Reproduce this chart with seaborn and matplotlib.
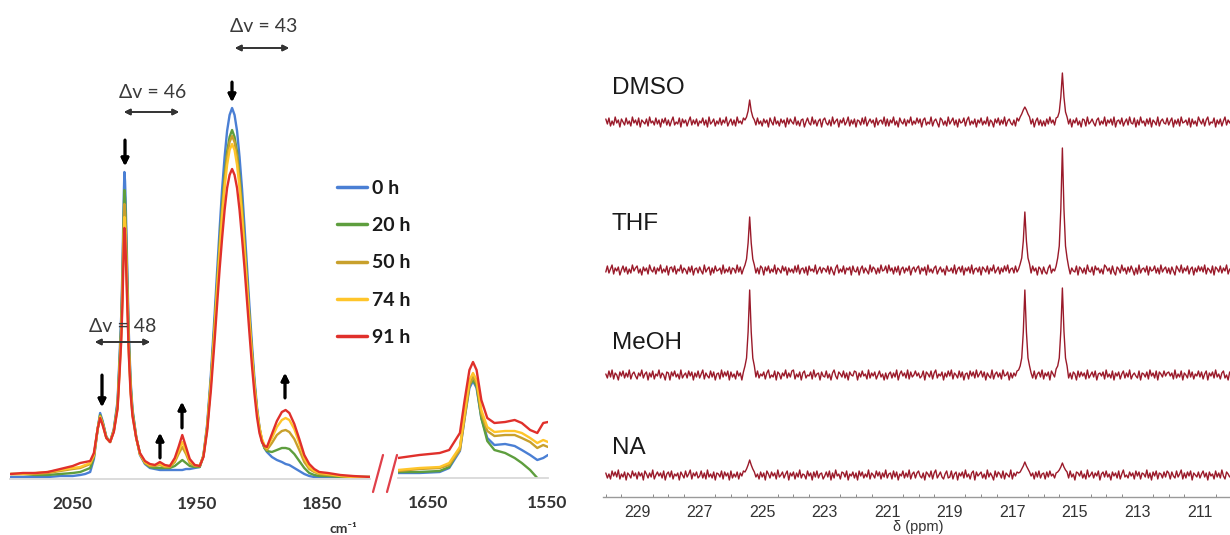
import matplotlib
matplotlib.use("Agg")
import matplotlib.pyplot as plt
from matplotlib.lines import Line2D
from matplotlib.ticker import MultipleLocator
import seaborn as sns
import numpy as np
import pandas as pd

# ---------------- IR data (absorbance in arbitrary units) ----------------
times = ["0 h", "20 h", "50 h", "74 h", "91 h"]
time_colors = ["#4A7FD4", "#5E9E3E", "#C8A02C", "#FFC52A", "#E0302B"]

wavenumber = [2100, 2090, 2080, 2070, 2060, 2050, 2044, 2040, 2036, 2033,
              2030, 2028, 2026, 2023, 2020, 2017, 2014, 2012.5, 2011, 2010,
              2009.5, 2009, 2008.5, 2008, 2007.5, 2007, 2006, 2005, 2003.5, 2002,
              1999, 1996, 1992, 1988, 1984, 1980, 1976, 1972, 1968, 1965,
              1962, 1959, 1956, 1952, 1948, 1945, 1942, 1939, 1936, 1934,
              1932, 1930, 1928, 1926, 1924, 1922, 1920, 1918, 1916, 1914,
              1912, 1910, 1908, 1906, 1904, 1902, 1900, 1898, 1896, 1894,
              1890, 1886, 1882, 1879, 1876, 1872, 1868, 1864, 1860, 1856,
              1852, 1845, 1835, 1825, 1811]

abs_0h = [2, 2, 2, 2, 3, 3, 4, 5, 7, 20,
          50, 66, 58, 42, 37, 50, 78, 120, 165, 215,
          250, 283, 307, 298, 278, 252, 200, 148, 98, 70,
          42, 24, 15, 11, 10, 9, 9, 9, 9, 9,
          9, 10, 10, 11, 12, 24, 55, 105, 165, 208,
          250, 290, 322, 348, 364, 371, 364, 348, 322, 290,
          252, 212, 172, 134, 100, 72, 52, 38, 31, 27,
          22, 19, 17, 15, 14, 11, 8, 5, 3, 2,
          2, 2, 2, 2, 2]
abs_20h = [5, 5, 4, 4, 5, 6, 7, 9, 11, 22,
           50, 64, 57, 42, 37, 49, 75, 114, 156, 203,
           236, 267, 289, 281, 262, 238, 189, 141, 94, 68,
           42, 25, 16, 12, 11, 11, 11, 11, 13, 16,
           19, 16, 13, 12, 12, 23, 52, 99, 156, 196,
           236, 273, 303, 327, 342, 349, 342, 327, 303, 273,
           237, 200, 162, 127, 95, 69, 50, 38, 31, 28,
           27, 29, 31, 31, 30, 25, 18, 11, 6, 4,
           3, 3, 2, 2, 2]
abs_50h = [5, 5, 5, 6, 8, 10, 11, 13, 15, 23,
           50, 63, 56, 41, 37, 48, 73, 110, 150, 194,
           225, 254, 275, 267, 249, 226, 181, 135, 91, 66,
           41, 25, 16, 13, 13, 14, 12, 12, 17, 25,
           32, 25, 16, 13, 13, 23, 52, 98, 153, 193,
           232, 268, 298, 322, 337, 343, 337, 322, 298, 268,
           233, 196, 160, 125, 94, 69, 51, 39, 32, 29,
           36, 44, 48, 49, 47, 40, 29, 17, 10, 7,
           5, 4, 3, 2, 2]
abs_74h = [5, 5, 6, 7, 9, 11, 12, 14, 16, 24,
           50, 62, 55, 41, 37, 48, 71, 106, 144, 185,
           214, 242, 262, 254, 238, 216, 173, 129, 88, 64,
           41, 25, 17, 14, 14, 15, 13, 13, 19, 28,
           37, 28, 18, 14, 13, 23, 51, 96, 150, 189,
           226, 262, 291, 314, 329, 335, 329, 314, 291, 262,
           228, 192, 156, 122, 92, 68, 51, 40, 34, 31,
           41, 52, 59, 61, 59, 50, 36, 21, 12, 8,
           6, 5, 3, 2, 2]
abs_91h = [5, 6, 6, 7, 10, 13, 16, 17, 18, 26,
           50, 61, 54, 41, 37, 47, 70, 103, 139, 178,
           206, 232, 251, 244, 228, 207, 166, 125, 85, 63,
           41, 26, 18, 15, 14, 17, 14, 13, 21, 32,
           44, 32, 20, 14, 13, 22, 48, 89, 139, 175,
           210, 241, 269, 291, 304, 310, 304, 291, 269, 241,
           211, 178, 145, 113, 85, 62, 46, 37, 33, 32,
           45, 58, 67, 69, 66, 55, 40, 24, 15, 10,
           7, 6, 4, 3, 2]

inset_wavenumber = [1675, 1657, 1640, 1632, 1623, 1619, 1615, 1612, 1609, 1605,
                    1600, 1594, 1585, 1577, 1571, 1564, 1558, 1553, 1549]
inset_0h = [5, 5, 6, 10, 27, 60, 90, 97, 90, 60, 40, 33, 34, 32, 28, 23, 18, 20, 23]
inset_20h = [6, 6, 7, 11, 30, 63, 93, 98, 92, 60, 37, 28, 25, 20, 15, 8, 0, np.nan, np.nan]
inset_50h = [7, 9, 10, 13, 28, 60, 93, 101, 95, 64, 47, 42, 43, 43, 40, 36, 30, 33, 31]
inset_74h = [8, 10, 11, 15, 31, 65, 98, 105, 98, 68, 51, 46, 47, 47, 45, 40, 35, 38, 36]
inset_91h = [20, 23, 25, 28, 45, 78, 108, 116, 108, 78, 60, 55, 56, 58, 55, 48, 45, 55, 56]

# ---------------- 13C NMR data (230.00 -> 210.00 ppm, 0.05 ppm steps) ----------------
solvents = ["DMSO", "THF", "MeOH", "NA"]
nmr_dmso = [
    3, -2, 4, -4, 1, -3, 5, -1, 2, -5, 3, 0, -3, 4, -2, 1, -4, 5, -1, 2,
    -3, 4, -5, 2, 0, -2, 3, -4, 5, -1, 1, -3, 4, -2, 2, -5, 3, -1, 4, -3,
    2, -4, 1, 5, -3, 0, -2, 4, -5, 3, -1, 2, -4, 1, 5, -3, 2, -2, 3, -4,
    1, -1, 4, -3, 2, -5, 5, -2, 0, 3, -4, 1, -2, 4, -3, 2, -1, 5, -4, 0,
    3, -3, 2, -4, 5, -1, 1, -2, 4, 2, 5, 11, 22, 11, 5, 2, -3, 4, -2, 1,
    -4, 3, -1, 2, -5, 4, 0, -3, 5, -2, 1, -4, 3, -1, 2, -5, 4, -2, 3, 0,
    -2, 5, -3, 1, -4, 2, 3, -5, 0, 4, -1, -3, 5, -2, 2, -4, 1, 3, -5, 2,
    4, -1, -3, 2, -4, 5, -2, 1, 3, -5, 2, -1, 4, -3, 0, 5, -4, 2, -2, 3,
    -5, 2, 1, -3, 4, -2, 5, -4, 0, 3, -1, 2, -5, 4, -3, 1, 2, -2, 5, -4,
    3, -4, 2, -1, 5, -3, 1, -5, 4, 0, -2, 3, -4, 2, -1, 5, -3, 1, -2, 4,
    -1, 3, -5, 2, 4, -3, 0, -2, 5, -4, 1, 3, -1, -5, 4, 2, -3, 1, -4, 5,
    -2, 1, 4, -3, 2, -5, 3, -1, 0, 4, -4, 2, 5, -3, 1, -2, 3, -5, 2, -1,
    4, -3, 1, -2, 5, -4, 2, 0, -5, 3, -1, 4, -3, 2, -2, 5, -4, 1, 3, -1,
    -3, 2, -4, 4, 1, 5, 8, 12, 15, 12, 8, 5, -2, 3, -5, 1, 4, -3, 2, -4,
    1, -4, 3, -2, 5, -1, 2, -3, 4, 5, 10, 25, 49, 25, 10, 5, -2, 3, -5, 2,
    -1, 4, -3, 1, -5, 3, 2, -4, 5, -2, 0, 3, -1, -4, 2, 4, -3, 1, -2, 5,
    -4, 2, -1, 3, -3, 5, -5, 1, 2, -2, 4, -4, 0, 3, -3, 5, -1, -2, 4, -5,
    2, -3, 5, -1, 1, -4, 3, -2, 4, -5, 2, 0, -3, 5, -4, 1, 3, -1, -2, 4,
    -3, 1, 4, -5, 2, -2, 3, -4, 5, -1, 0, 2, -3, 4, -5, 3, -2, 1, -4, 5,
    1, -2, 3, -4, 2, 5, -3, 0, -1, 4, -5, 2, -2, 3, -4, 1, 5, -3, 2, -1,
    3]
nmr_thf = [
    -2, 4, -3, 1, 5, -4, 2, -1, 3, -5, 0, 4, -2, 3, -4, 1, -3, 5, -1, 2,
    4, -3, 1, -5, 3, -1, 2, -4, 5, 0, -2, 3, -4, 2, -1, 5, -3, 1, -2, 4,
    -5, 2, 3, -2, 4, -4, 1, -1, 5, -3, 2, 0, -4, 3, -2, 4, -5, 1, 2, -3,
    3, -1, -4, 5, -2, 1, 3, -5, 2, -3, 4, -1, 0, 2, -4, 5, -3, 1, -2, 3,
    -4, 2, 1, -3, 5, -2, 3, -4, 1, 5, 11, 27, 53, 27, 11, 5, -3, 2, -4, 4,
    2, -5, 3, -1, 4, -3, 1, -2, 5, -4, 2, 0, -3, 4, -1, 3, -5, 2, -2, 1,
    -3, 4, -2, 5, -4, 1, 2, -3, 3, -5, 4, -1, 1, -2, 5, -4, 0, 3, -3, 2,
    1, -2, 4, -4, 3, -1, -5, 2, 5, -3, 1, -2, 4, -4, 2, 0, 3, -5, 4, -1,
    -2, 3, -5, 1, 4, -3, 2, -1, -4, 5, -2, 3, 1, -4, 2, -3, 5, -1, 0, 4,
    -3, 5, -1, 2, -4, 3, -2, 4, -5, 1, 3, -3, 2, -1, 4, -5, 1, 3, -2, 2,
    4, -4, 2, -1, 3, -5, 5, -2, 1, -3, 2, 4, -4, 0, 3, -2, 1, -5, 4, -1,
    -1, 2, -3, 5, -4, 1, 3, -2, 4, -5, 2, -1, 3, -3, 5, -4, 1, 2, -2, 3,
    -5, 3, 1, -2, 4, -4, 2, -1, 5, -3, 0, 3, -4, 2, -2, 4, -1, 5, -3, 1,
    2, -3, 4, -2, 1, 6, 12, 29, 58, 29, 12, 6, -3, 4, -1, 2, -5, 3, 1, -4,
    3, -2, -4, 2, 5, -3, 1, -1, 4, 12, 24, 61, 122, 61, 24, 12, 3, -4, 2, -1,
    -2, 4, -5, 3, 1, -3, 2, -4, 5, -1, -2, 3, -5, 4, 0, 2, -3, 1, -4, 5,
    3, -1, 2, -4, 4, -2, -5, 3, 1, -3, 5, -1, 2, -4, 3, -2, 4, 0, -5, 2,
    -4, 5, -3, 1, 2, -2, 4, -5, 3, -1, 0, 4, -3, 2, -4, 5, -2, 1, 3, -3,
    2, -4, 3, -1, -5, 4, 1, -2, 5, -3, 2, -1, 4, -4, 1, 3, -5, 2, -2, 4,
    -1, 3, -2, 5, -4, 2, 0, -3, 4, -5, 3, 1, -2, 4, -3, 2, -1, 5, -4, 1,
    -2]
nmr_meoh = [
    1, -3, 4, -2, 5, -4, 2, 0, -5, 3, -1, 4, -3, 2, -2, 5, -4, 1, 3, -1,
    -4, 2, -1, 5, -3, 1, 3, -5, 2, -2, 4, -4, 1, -1, 5, -3, 2, 0, -5, 3,
    2, -5, 3, -1, 4, -2, 1, -4, 5, -3, 0, 2, -3, 4, -1, 3, -5, 2, -2, 4,
    -3, 1, 5, -4, 2, -1, -3, 4, -2, 3, -5, 1, 2, -4, 5, -2, 3, -1, 4, -5,
    3, -2, 1, -4, 4, -1, 2, -5, 3, 9, 17, 43, 85, 43, 17, 9, -2, 4, -3, 1,
    -1, 3, -4, 2, 5, -3, 0, -2, 4, -5, 3, 1, -4, 2, -1, 5, -3, 2, -2, 4,
    5, -4, 1, -2, 3, -5, 2, 4, -3, 0, -1, 3, -4, 5, -2, 1, 2, -5, 3, -1,
    -2, 4, -3, 1, -5, 2, 5, -1, -4, 3, 1, -2, 4, -3, 2, -5, 3, 0, -1, 4,
    3, -5, 2, -2, 4, -1, 1, -4, 5, -3, 2, -1, 3, -4, 0, 4, -2, 1, -5, 2,
    -4, 1, 3, -3, 2, -2, 5, -5, 1, 4, -1, 2, -3, 5, -4, 3, -2, 0, 4, -1,
    2, -3, -1, 4, -5, 3, 1, -2, 4, -4, 2, 5, -3, 1, -1, 3, -5, 2, -2, 4,
    -1, 5, -4, 2, 0, -3, 4, -2, 3, -5, 1, 2, -4, 4, -1, 3, -3, 5, -2, 1,
    4, -2, 3, -5, 2, -1, -3, 5, -4, 1, 3, -2, 2, -4, 5, -1, 0, 3, -5, 2,
    -3, 2, -1, 4, 5, 9, 17, 43, 85, 43, 17, 9, 2, -3, 4, -4, 1, 3, -2, 5,
    -4, 2, -1, 3, -5, 4, 1, -2, 6, 9, 17, 44, 87, 44, 17, 9, -3, 2, -4, 3,
    1, -5, 4, -2, 3, -1, 2, -4, 5, -3, 0, 3, -2, 4, -5, 1, 2, -1, 3, -4,
    5, -2, 1, -3, 4, -5, 2, -1, 3, -4, 1, 4, -3, 2, -2, 5, -4, 0, 2, -1,
    -3, 4, -5, 2, 1, -2, 3, -4, 5, -1, 2, -3, 4, -5, 3, 1, -2, 4, -1, 2,
    3, -1, 2, -4, 5, -3, 1, -2, 4, -5, 2, 0, -3, 5, -2, 3, -4, 1, -1, 4,
    -2, 3, -4, 1, 4, -5, 2, -1, 3, -3, 5, -2, 1, -4, 2, 4, -3, 0, -5, 3,
    1]
nmr_na = [
    2, -3, 1, -4, 4, -1, 3, -2, 5, -4, 1, -2, 3, -5, 2, 0, -3, 4, -1, 2,
    -4, 3, -1, 2, -5, 4, 1, -3, 2, -2, 5, -4, 0, 3, -1, 2, -3, 4, -5, 1,
    3, -2, 4, -4, 1, -1, 2, -5, 3, 0, -3, 4, -2, 1, 5, -4, 2, -1, 3, -3,
    -1, 4, -3, 2, -4, 5, -2, 1, -3, 3, -5, 2, 1, -2, 4, -4, 3, -1, 2, -5,
    4, -3, 1, -2, 3, -4, 2, -1, 4, 3, 6, 10, 15, 10, 6, 3, -2, 1, -4, 3,
    -2, 2, -5, 4, 1, -3, 3, -1, 2, -4, 5, -2, 0, 3, -3, 1, 4, -5, 2, -1,
    3, -4, 2, -2, 5, -3, 1, 0, -4, 4, -1, 2, -5, 3, -2, 4, -3, 1, 2, -4,
    -1, 3, -2, 4, -5, 2, -3, 5, -1, 1, -4, 3, 2, -2, 4, -5, 1, -1, 3, -3,
    2, -5, 4, -1, 3, -3, 1, -2, 5, -4, 2, 0, -3, 4, -1, 3, -4, 2, -2, 5,
    -3, 1, 2, -4, 4, -2, 3, -5, 1, -1, 4, -3, 2, -2, 5, -4, 1, 3, -3, 2,
    4, -1, -3, 2, -5, 3, 1, -2, 4, -4, 2, 5, -3, 0, 3, -2, -4, 1, 4, -3,
    -2, 4, -4, 1, 3, -5, 2, -1, 3, -3, 5, -2, 1, -4, 2, 4, -5, 3, -1, 1,
    3, -3, 1, -4, 5, -2, 2, -1, -5, 4, -2, 3, 1, -3, 4, -4, 2, 0, -2, 5,
    -4, 2, -1, 3, 2, 3, 6, 9, 13, 9, 6, 3, -1, 2, -4, 3, -2, 4, -3, 1,
    2, -4, 3, -2, 4, -1, 1, -3, 2, 3, 5, 8, 12, 8, 5, 3, -3, 4, -2, 1,
    -5, 3, 2, -1, 4, -3, 1, -4, 5, -2, 0, 3, -3, 2, -1, 4, -5, 1, 3, -2,
    4, -2, 1, -5, 3, -1, 2, -3, 4, -4, 1, 5, -2, 0, -3, 3, -1, 2, -4, 4,
    -1, 3, -4, 2, 1, -2, 5, -3, 2, -5, 3, -1, 4, -4, 2, 1, -3, 3, -2, 4,
    2, -4, 3, -1, -3, 4, -2, 1, 5, -4, 2, -3, 3, -1, 4, -5, 2, 0, -2, 3,
    -3, 1, 4, -2, 2, -5, 3, -1, 1, -4, 4, -2, 2, -3, 5, -1, -4, 3, 1, -2,
    0]
nmr_traces = [nmr_dmso, nmr_thf, nmr_meoh, nmr_na]
ppm = np.round(np.linspace(230.0, 210.0, 401), 2)

# ---------------- figure ----------------
W, H = 1230, 535
sns.set_theme(style="white")
plt.rcParams["font.family"] = ["Lato", "DejaVu Sans"]

fig = plt.figure(figsize=(W / 100, H / 100), dpi=100)


def px_axes(left, top, right, bottom):
    return fig.add_axes([left / W, 1 - bottom / H, (right - left) / W, (bottom - top) / H])


def fp(x, y):
    return (x / W, 1 - y / H)


def ir_frame(df, ax):
    sns.lineplot(data=df, x="wn", y="a", hue="time", hue_order=times,
                 palette=time_colors, linewidth=1.7, ax=ax, sort=False, estimator=None)
    for s in ["top", "left", "right"]:
        ax.spines[s].set_visible(False)
    ax.spines["bottom"].set_color("#d9d9d9")
    ax.spines["bottom"].set_linewidth(1.3)
    ax.set_yticks([])
    ax.set_xlabel("")
    ax.set_ylabel("")
    ax.tick_params(axis="x", length=0, pad=12, labelsize=12.5, labelcolor="#333333")
    ax.patch.set_alpha(0)
    for ln in ax.get_lines():
        ln.set_solid_joinstyle("round")


# main IR panel
ir = pd.DataFrame({"wn": wavenumber * 5,
                   "a": abs_0h + abs_20h + abs_50h + abs_74h + abs_91h,
                   "time": np.repeat(times, len(wavenumber))})
ax1 = px_axes(10, 0, 370, 479)
ir_frame(ir, ax1)
ax1.set_xlim(2100.4, 1811.2)
ax1.set_ylim(0, 479)
ax1.set_xticks([2050, 1950, 1850])
for t in ax1.get_xticklabels():
    t.set_fontweight("bold")

handles, labels = ax1.get_legend_handles_labels()
leg = ax1.legend(handles, labels, loc="upper left", bbox_to_anchor=fp(337, 180),
                 bbox_transform=fig.transFigure, frameon=False, fontsize=14,
                 handlelength=1.55, handletextpad=0.25, labelspacing=1.04,
                 borderaxespad=0, borderpad=0)
for t in leg.get_texts():
    t.set_fontweight("bold")
    t.set_color("#1a1a1a")
for ln in leg.get_lines():
    ln.set_linewidth(2.5)

# inset IR panel
ir2 = pd.DataFrame({"wn": inset_wavenumber * 5,
                    "a": inset_0h + inset_20h + inset_50h + inset_74h + inset_91h,
                    "time": np.repeat(times, len(inset_wavenumber))}).dropna()
ax2 = px_axes(398, 340, 548, 478)
ir_frame(ir2, ax2)
ax2.get_legend().remove()
ax2.set_xlim(1675, 1549)
ax2.set_ylim(0, 138)
ax2.set_xticks([1650, 1550])
for t in ax2.get_xticklabels():
    t.set_fontweight("bold")

fig.text(*fp(343, 529), "cm\u207b\u00b9", ha="center", va="center", fontsize=10,
         fontweight="bold", color="#333333", family=["Lato", "DejaVu Sans"])

# axis break marks
for x0 in (373, 387):
    fig.add_artist(Line2D([x0 / W, (x0 + 10) / W], [1 - 492 / H, 1 - 455 / H],
                          color="#E0404A", lw=1.6))

# delta-nu annotations
for label, (tx, ty), (x0, x1, ya) in [("\u0394v = 43", (264, 26), (235, 289, 48)),
                                      ("\u0394v = 46", (153, 93), (124, 179, 112)),
                                      ("\u0394v = 48", (123, 326), (95, 150, 342))]:
    fig.text(*fp(tx, ty), label, ha="center", va="center", fontsize=14, color="#3a3a3a")
    fig.add_artist(plt.annotate("", xy=fp(x1, ya), xytext=fp(x0, ya), xycoords="figure fraction",
                                arrowprops=dict(arrowstyle="<|-|>", color="#333333", lw=1.2,
                                                mutation_scale=9, shrinkA=0, shrinkB=0)))

# trend arrows: (x, tail_y, tip_y)
for x, y0, y1 in [(232, 82, 102), (125, 140, 166), (102, 375, 407),
                  (160, 458, 433), (182, 428, 402), (285, 398, 373)]:
    fig.add_artist(plt.annotate("", xy=fp(x, y1), xytext=fp(x, y0), xycoords="figure fraction",
                                arrowprops=dict(arrowstyle="-|>", color="black", lw=2.0,
                                                mutation_scale=11, shrinkA=0, shrinkB=0)))

# ---------------- NMR panel ----------------
ax3 = px_axes(603, 60, 1230, 497)
offsets = [375, 227, 122, 22]
label_y = [88, 224, 343, 448]
for name, trace, off in zip(solvents, nmr_traces, offsets):
    sns.lineplot(x=ppm, y=np.array(trace) + off, color="#9A1A2A", linewidth=1.0,
                 ax=ax3, sort=False, estimator=None)
ax3.set_xlim(230.09, 210.04)
ax3.set_ylim(0, 437)
for s in ["top", "left", "right"]:
    ax3.spines[s].set_visible(False)
ax3.spines["bottom"].set_color("#9a9a9a")
ax3.spines["bottom"].set_linewidth(1.0)
ax3.set_yticks([])
ax3.set_xticks(np.arange(229, 210, -2))
ax3.xaxis.set_minor_locator(MultipleLocator(0.5))
ax3.tick_params(axis="x", which="major", direction="in", length=3.5, width=0.8,
                color="#888888", pad=6, labelsize=11.5, labelcolor="#333333")
ax3.tick_params(axis="x", which="minor", direction="in", length=2.5, width=0.7,
                color="#888888", bottom=True)
for t in ax3.get_xticklabels():
    t.set_family(["Liberation Sans", "DejaVu Sans"])
ax3.set_xlabel("")
ax3.set_ylabel("")
ax3.patch.set_alpha(0)
fig.text(*fp(918, 527), "\u03b4 (ppm)", ha="center", va="center", fontsize=10.5,
         color="#333333", family=["Liberation Sans", "DejaVu Sans"])
for name, ly in zip(solvents, label_y):
    fig.text(*fp(612, ly), name, ha="left", va="center", fontsize=17.5,
             color="#1a1a1a", family=["Liberation Sans", "DejaVu Sans"])

fig.savefig("out.png", dpi=100)
